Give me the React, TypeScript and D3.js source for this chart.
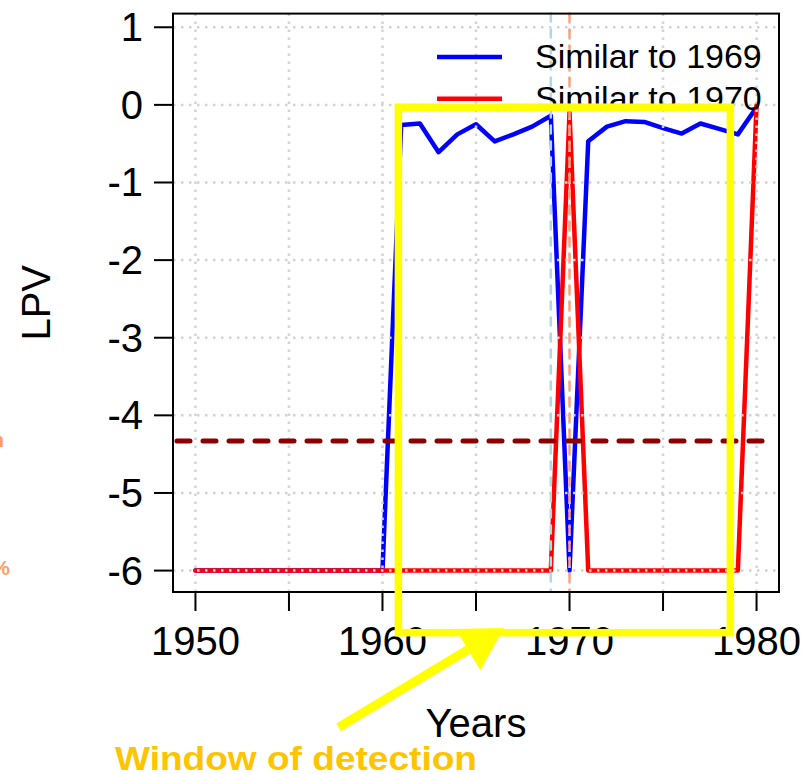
import React from "react";
import * as d3 from "d3";

const years = [1950,1951,1952,1953,1954,1955,1956,1957,1958,1959,1960,1961,1962,1963,1964,1965,1966,1967,1968,1969,1970,1971,1972,1973,1974,1975,1976,1977,1978,1979,1980];
const similar1969 = [-6,-6,-6,-6,-6,-6,-6,-6,-6,-6,-6,-0.26,-0.24,-0.61,-0.38,-0.25,-0.47,-0.38,-0.28,-0.14,-6,-0.47,-0.28,-0.21,-0.22,-0.3,-0.37,-0.24,-0.31,-0.38,-0.03];
const similar1970 = [-6,-6,-6,-6,-6,-6,-6,-6,-6,-6,-6,-6,-6,-6,-6,-6,-6,-6,-6,-6,-0.1,-6,-6,-6,-6,-6,-6,-6,-6,-6,0];
const xTicks = [1950,1955,1960,1965,1970,1975,1980];
const xTickLabels = [1950,1960,1970,1980];
const yTicks = [1,0,-1,-2,-3,-4,-5,-6];
const threshold = -4.33;
const vline1969 = 1969;
const vline1970 = 1970;
const legendLabels = ["Similar to 1969", "Similar to 1970"];
const seriesColors = ["#0000FF", "#FF0000"];
// annotation (data units)
const windowX = [1960.85, 1978.6];
const windowY = [-0.03, -6.8];
const arrowTail = [1957.65, -8.02];
const arrowTip = [1966.5, -6.74];

const FONT = "'Liberation Sans', Arial, Helvetica, sans-serif";

export default function App() {
  const W = 804, H = 774;
  const L = 173, R = 779, T = 13.6, B = 592;
  const x = d3.scaleLinear().domain([1948.8, 1981.2]).range([L, R]);
  const y = d3.scaleLinear().domain([-6.276, 1.176]).range([B, T]);
  const line = d3.line<number>().x((_, i) => x(years[i])).y((d) => y(d));

  const grid = "#D3D3D3";

  // arrow geometry
  const tx = x(arrowTail[0]), ty = y(arrowTail[1]);
  const px = x(arrowTip[0]), py = y(arrowTip[1]);
  const len = Math.hypot(px - tx, py - ty);
  const dx = (px - tx) / len, dy = (py - ty) / len;
  const headLen = 42, headHalf = 24;
  const bx = px - dx * headLen, by = py - dy * headLen;
  const nx = -dy, ny = dx;
  const head = `M${px},${py}L${bx + nx * headHalf},${by + ny * headHalf}L${bx - nx * headHalf},${by - ny * headHalf}Z`;

  return (
    <svg width={W} height={H} style={{ position: "absolute", left: 0, top: 0, background: "#fff" }} fontFamily={FONT}>
      <rect x={0} y={0} width={W} height={H} fill="#fff" />
      {/* clipped orange text at left edge */}
      <text x={4} y={447} textAnchor="end" fontSize={21} fontWeight="bold" fill="#FF9E66">median</text>
      <text x={10} y={575} textAnchor="end" fontSize={21} fontWeight="bold" fill="#FF9E66">5%</text>

      {/* data lines */}
      <path d={line(similar1969) || ""} fill="none" stroke={seriesColors[0]} strokeWidth={4.5} strokeLinejoin="round" strokeLinecap="round" />
      <path d={line(similar1970) || ""} fill="none" stroke={seriesColors[1]} strokeWidth={4.5} strokeLinejoin="round" strokeLinecap="round" />

      {/* grid */}
      {xTicks.map((t) => (
        <line key={"gx" + t} x1={x(t)} x2={x(t)} y1={T} y2={B} stroke={grid} strokeWidth={2.5} strokeDasharray="2.5 5.5" />
      ))}
      {yTicks.map((t) => (
        <line key={"gy" + t} x1={L} x2={R} y1={y(t)} y2={y(t)} stroke={grid} strokeWidth={2.5} strokeDasharray="2.5 5.5" />
      ))}

      {/* vertical reference lines */}
      <line x1={x(vline1969)} x2={x(vline1969)} y1={T} y2={B} stroke="#ADD8E6" strokeWidth={2.5} strokeDasharray="8 8" strokeLinecap="round" />
      <line x1={x(vline1970)} x2={x(vline1970)} y1={T} y2={B} stroke="#FFA07A" strokeWidth={2.5} strokeDasharray="8 8" strokeLinecap="round" />

      {/* threshold */}
      <line x1={L + 4} x2={R - 4} y1={y(threshold)} y2={y(threshold)} stroke="#8B0000" strokeWidth={5} strokeDasharray="13 13" strokeLinecap="round" />

      {/* box */}
      <rect x={L} y={T} width={R - L} height={B - T} fill="none" stroke="#000" strokeWidth={2} />

      {/* x axis */}
      {xTicks.map((t) => (
        <line key={"xt" + t} x1={x(t)} x2={x(t)} y1={B} y2={B + 19} stroke="#000" strokeWidth={2} />
      ))}
      {xTickLabels.map((t) => (
        <text key={"xl" + t} x={x(t)} y={655} textAnchor="middle" fontSize={40} fill="#000">{t}</text>
      ))}
      {/* y axis */}
      {yTicks.map((t) => (
        <line key={"yt" + t} x1={L - 19} x2={L} y1={y(t)} y2={y(t)} stroke="#000" strokeWidth={2} />
      ))}
      {yTicks.map((t) => (
        <text key={"yl" + t} x={143} y={y(t) + 14} textAnchor="end" fontSize={40} fill="#000">{t}</text>
      ))}
      <text x={(L + R) / 2} y={737} textAnchor="middle" fontSize={40} fill="#000">Years</text>
      <text transform={`translate(50,${(T + B) / 2}) rotate(-90)`} textAnchor="middle" fontSize={40} fill="#000">LPV</text>

      {/* legend */}
      {legendLabels.map((lab, i) => (
        <g key={lab}>
          <line x1={437} x2={502} y1={57 + i * 41.7} y2={57 + i * 41.7} stroke={seriesColors[i]} strokeWidth={4.5} />
          <text x={535} y={68.3 + i * 41.7} fontSize={34} fill="#000">{lab}</text>
        </g>
      ))}

      {/* annotation */}
      <rect x={x(windowX[0])} y={y(windowY[0])} width={x(windowX[1]) - x(windowX[0])} height={y(windowY[1]) - y(windowY[0])} fill="none" stroke="#FFFF00" strokeWidth={7.5} strokeLinejoin="miter" />
      <line x1={tx} y1={ty} x2={bx} y2={by} stroke="#FFFF00" strokeWidth={9} />
      <path d={head} fill="#FFFF00" />
      <text x={115} y={770} fontSize={33} fontWeight="bold" fill="#FFC400" textLength={362} lengthAdjust="spacingAndGlyphs">Window of detection</text>
    </svg>
  );
}
